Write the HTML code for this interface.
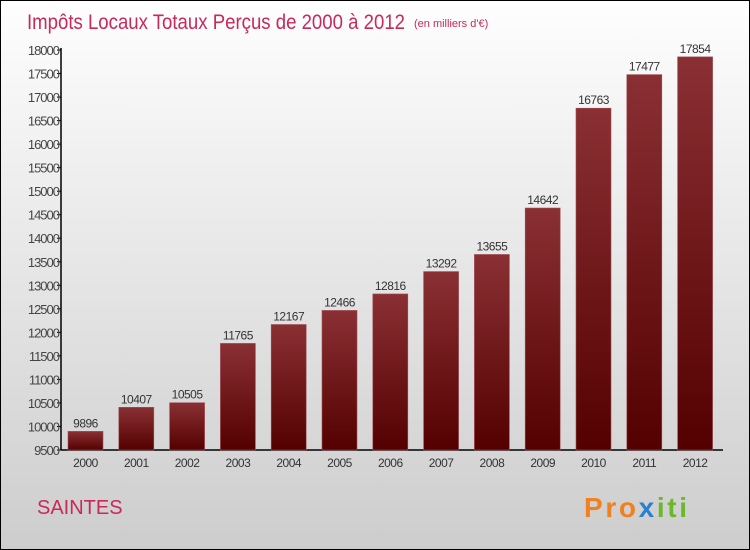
<!DOCTYPE html>
<html><head><meta charset="utf-8"><style>
body{margin:0}
#c{position:relative;width:748px;height:548px;border:1px solid #000;background:linear-gradient(#fefefe,#cdcdcd);font-family:"Liberation Sans",sans-serif;overflow:hidden}
</style></head><body>
<div id="c">
<svg width="748" height="548" id="s">
<defs><linearGradient id="g" x1="0" y1="0" x2="0" y2="1"><stop offset="0" stop-color="#8a3034"/><stop offset="1" stop-color="#540000"/></linearGradient></defs>
<text x="26" y="28" font-size="21" fill="#c8285a" textLength="378" lengthAdjust="spacingAndGlyphs">Impôts Locaux Totaux Perçus de 2000 à 2012</text>
<text x="413" y="26" font-size="11" fill="#c8285a">(en milliers d'€)</text>
<text x="36" y="513" font-size="20" fill="#c8285a">SAINTES</text>
<text x="583" y="516" font-size="28" font-weight="bold" fill="#f08020" textLength="103">Pro<tspan fill="#2a7fd0">x</tspan><tspan fill="#6bb82a">iti</tspan></text>
<g id="plot"></g>
</svg></div>
<script>
const years=["2000","2001","2002","2003","2004","2005","2006","2007","2008","2009","2010","2011","2012"];
const values=[9896,10407,10505,11765,12167,12466,12816,13292,13655,14642,16763,17477,17854];
const ticks=[9500,10000,10500,11000,11500,12000,12500,13000,13500,14000,14500,15000,15500,16000,16500,17000,17500,18000];
const ns="http://www.w3.org/2000/svg",p=document.getElementById('plot');
const y0=449,y1=49,vmin=9500,vmax=18000,ax=60;
const y=v=>y0-(v-vmin)/(vmax-vmin)*(y0-y1);
const x=i=>84.5+i*50.8;
function mk(t,a){const e=document.createElementNS(ns,t);for(const k in a)e.setAttribute(k,a[k]);p.appendChild(e);return e;}
let l=mk('line',{x1:ax,y1:y1-2,x2:ax,y2:y0,stroke:'#000','stroke-width':1.5});


l=mk('line',{x1:ax,y1:y0,x2:722,y2:y0,stroke:'#000','stroke-width':1.5});


ticks.forEach(t=>{
 const tk=mk('line',{x1:ax-4,x2:ax,y1:y(t),y2:y(t),stroke:'#000'});
 
 
 const tx=mk('text',{x:ax-2,y:y(t)+5,'font-size':13,fill:'#444','text-anchor':'end','letter-spacing':'-1'});
 tx.textContent=t;
 
 
});
values.forEach((v,i)=>{
 const r=mk('rect',{x:x(i)-17.5,y:y(v),width:35,height:y0-y(v),fill:'url(#g)',stroke:'#a05058','stroke-width':0.6});
 
 
 const t=mk('text',{x:x(i),y:y(v)-4,'font-size':12,fill:'#333','text-anchor':'middle','letter-spacing':'-0.5'});
 t.textContent=v;
 
 
 const xl=mk('text',{x:x(i),y:y0+17,'font-size':12,fill:'#333','text-anchor':'middle','letter-spacing':'-0.5'});
 xl.textContent=years[i];
 
 
});
</script>
</body></html>
